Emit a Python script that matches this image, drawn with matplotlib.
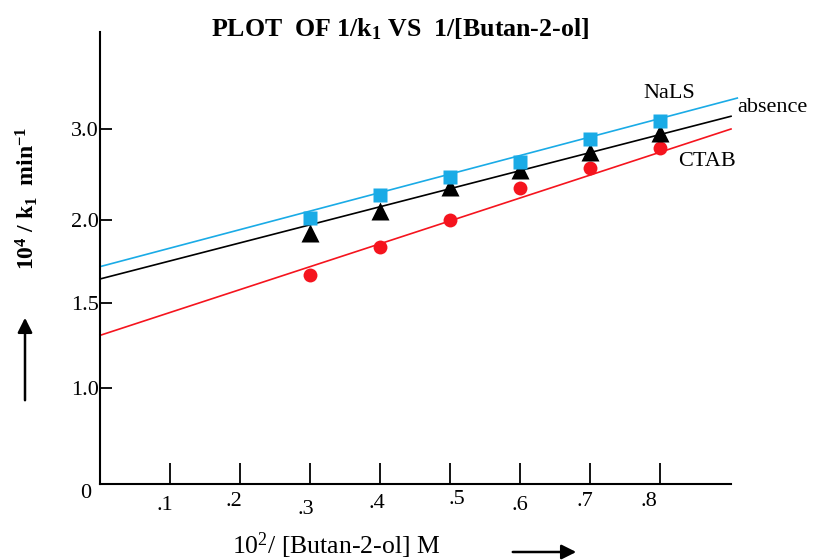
import numpy as np
import matplotlib
matplotlib.use("Agg")
import matplotlib.pyplot as plt

plt.rcParams['font.family'] = ['Liberation Serif', 'DejaVu Serif']
plt.rcParams['mathtext.fontset'] = 'custom'
plt.rcParams['mathtext.rm'] = 'Liberation Serif'
plt.rcParams['mathtext.bf'] = 'Liberation Serif:bold'
plt.rcParams['mathtext.it'] = 'Liberation Serif:italic'

# ---------------- data ----------------
x_vals = [0.3, 0.4, 0.5, 0.6, 0.7, 0.8]
nals = [2.02, 2.27, 2.47, 2.64, 2.89, 3.09]
absence = [1.92, 2.10, 2.36, 2.55, 2.75, 2.96]
ctab = [1.67, 1.84, 2.00, 2.35, 2.57, 2.79]

# fitted straight lines (start x, end x) and (start y, end y)
nals_fit_x = [0.0, 0.91]
nals_fit_y = [1.72, 3.34]
abs_fit_x = [0.0, 0.901]
abs_fit_y = [1.646, 3.14]
ctab_fit_x = [0.0, 0.901]
ctab_fit_y = [1.31, 3.00]

x_ticks = [0.1, 0.2, 0.3, 0.4, 0.5, 0.6, 0.7, 0.8]
x_tick_labels = ['.1', '.2', '.3', '.4', '.5', '.6', '.7', '.8']
y_ticks = [1.0, 1.5, 2.0, 3.0]
y_tick_labels = ['1.0', '1.5', '2.0', '3.0']

# the hand-drawn y axis has unevenly spaced labels: piecewise scale
y_lab = np.array([0.0, 1.0, 1.5, 2.0, 3.0])
y_pos = np.array([0.0, 96.3, 180.7, 264.0, 355.0])
top_slope = 91.0


def fwd(v):
    v = np.asarray(v, dtype=float)
    out = np.interp(v, y_lab, y_pos)
    out = np.where(v > y_lab[-1], y_pos[-1] + (v - y_lab[-1]) * top_slope, out)
    out = np.where(v < 0, v * y_pos[1], out)
    return out


def inv(p):
    p = np.asarray(p, dtype=float)
    out = np.interp(p, y_pos, y_lab)
    out = np.where(p > y_pos[-1], y_lab[-1] + (p - y_pos[-1]) / top_slope, out)
    out = np.where(p < 0, p / y_pos[1], out)
    return out


W, H = 814, 560
fig = plt.figure(figsize=(W / 100, H / 100), dpi=100)
ax = fig.add_axes([100 / W, (H - 484) / H, 631 / W, 452 / H])
ax.set_yscale('function', functions=(fwd, inv))
ax.set_xlim(0, 0.901)
ax.set_ylim(0, inv(452.0))

blue = '#1AABE6'
red = '#F5141E'

lw = 1.2
ax.plot(nals_fit_x, nals_fit_y, color=blue, lw=lw, clip_on=False, zorder=2)
ax.plot(abs_fit_x, abs_fit_y, color='black', lw=lw, clip_on=False, zorder=2)
ax.plot(ctab_fit_x, ctab_fit_y, color=red, lw=lw, clip_on=False, zorder=2)

ax.plot(x_vals, ctab, 'o', color=red, ms=10, mec='none', zorder=3)
ax.plot(x_vals, absence, '^', color='black', ms=12.5, mec='none', zorder=4)
ax.plot(x_vals, nals, 's', color=blue, ms=10.5, mec='none', zorder=5)

for s in ['top', 'right']:
    ax.spines[s].set_visible(False)
for s in ['left', 'bottom']:
    ax.spines[s].set_linewidth(1.5)

ax.set_xticks(x_ticks)
ax.set_xticklabels([])
ax.tick_params(axis='x', direction='in', length=15, width=1.3)
ax.set_yticks(y_ticks)
ax.set_yticklabels(y_tick_labels, fontsize=16)
ax.tick_params(axis='y', direction='in', length=8.5, width=1.3, pad=1)
ax.minorticks_off()

# x tick labels drawn with the slight hand-placed jitter of the original
dx = [-5, -6, -4, -3, 7, 0, -5, -11]
dy = [22, 18, 26, 19, 16, 22, 17, 17]
for xv, lab, ox, oy in zip(x_ticks, x_tick_labels, dx, dy):
    ax.annotate(lab, xy=(xv, 0), xycoords='data',
                xytext=(ox * 0.72, -oy * 0.72), textcoords='offset points',
                ha='center', va='center', fontsize=16, annotation_clip=False)
ax.annotate('0', xy=(0, 0), xycoords='data', xytext=(-14 * 0.72, -9 * 0.72),
            textcoords='offset points', ha='center', va='center', fontsize=16,
            annotation_clip=False)


def ftext(x, y, s, **kw):
    fig.text(x / W, 1 - y / H, s, **kw)


ftext(400, 29, r'PLOT  OF 1/k$_\mathbf{1}$ VS  1/[Butan-2-ol]',
      ha='center', va='center', fontsize=18.6, fontweight='bold')
ftext(27, 198, r'10$^\mathbf{4}$ / k$_\mathbf{1}$  min$^\mathbf{-1}$',
      ha='center', va='center', fontsize=17, fontweight='bold', rotation=90)
ftext(336, 546, r'10$^2$/ [Butan-2-ol] M', ha='center', va='center', fontsize=18.5)

ftext(643, 94, 'NaLS', ha='left', va='center', fontsize=16)
ftext(737, 107, 'absence', ha='left', va='center', fontsize=16)
ftext(678, 161, 'CTAB', ha='left', va='center', fontsize=16)

# direction arrows
fig.add_artist(matplotlib.patches.FancyArrowPatch(
    (25, H - 403), (25, H - 315), transform=None, arrowstyle='-|>',
    mutation_scale=22, lw=1.8, color='black'))
fig.add_artist(matplotlib.patches.FancyArrowPatch(
    (510, H - 552), (579, H - 552), transform=None, arrowstyle='-|>',
    mutation_scale=22, lw=1.8, color='black'))

fig.savefig('out.png', dpi=100)
